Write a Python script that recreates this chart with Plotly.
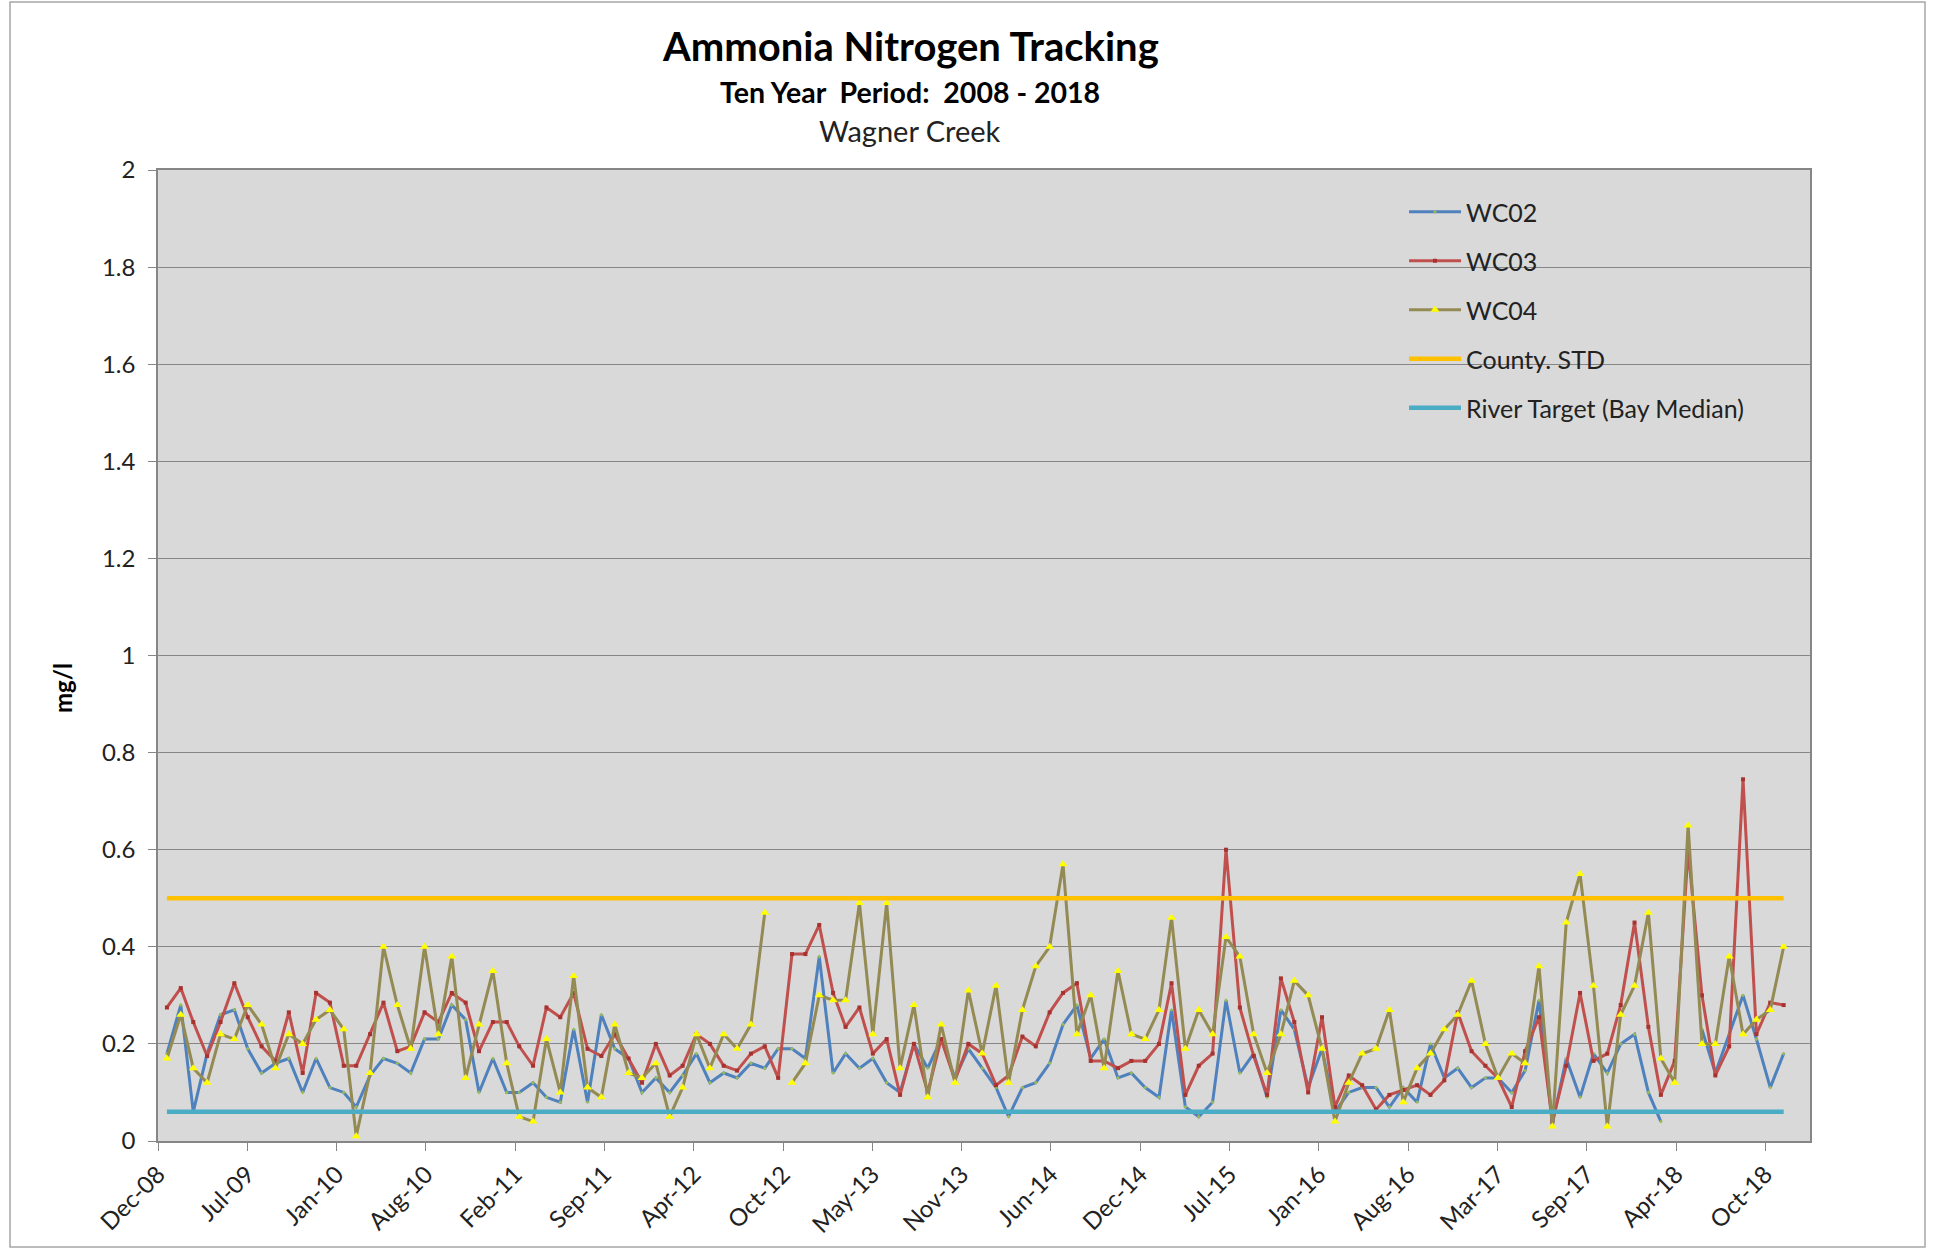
import pandas as pd
import plotly.graph_objects as go

# ---------------- data ----------------
# monthly sampling dates (Jan 2009 .. Dec 2018)
dates = pd.date_range("2009-01-01", periods=120, freq="MS") + pd.Timedelta(days=6)

wc02 = [0.18, 0.28, 0.06, 0.18, 0.26, 0.27, 0.19, 0.14, 0.16, 0.17,
        0.10, 0.17, 0.11, 0.10, 0.07, 0.135, 0.17, 0.16, 0.14, 0.21,
        0.21, 0.28, 0.25, 0.10, 0.17, 0.10, 0.10, 0.12, 0.09, 0.08,
        0.23, 0.08, 0.26, 0.19, 0.17, 0.10, 0.13, 0.10, 0.135, 0.18,
        0.12, 0.14, 0.13, 0.16, 0.15, 0.19, 0.19, 0.17, 0.38, 0.14,
        0.18, 0.15, 0.17, 0.12, 0.10, 0.20, 0.15, 0.21, 0.13, 0.19,
        0.15, 0.11, 0.05, 0.11, 0.12, 0.16, 0.24, 0.28, 0.17, 0.21,
        0.13, 0.14, 0.11, 0.09, 0.27, 0.07, 0.05, 0.08, 0.29, 0.14,
        0.18, 0.09, 0.27, 0.23, 0.11, 0.19, 0.06, 0.10, 0.11, 0.11,
        0.07, 0.11, 0.08, 0.20, 0.13, 0.15, 0.11, 0.13, 0.13, 0.10,
        0.145, 0.29, 0.035, 0.17, 0.09, 0.18, 0.14, 0.20, 0.22, 0.10,
        0.04, None, None, 0.23, 0.14, 0.22, 0.30, 0.21, 0.11, 0.18]

wc03 = [0.275, 0.315, 0.245, 0.175, 0.245, 0.325, 0.255, 0.195, 0.165, 0.265,
        0.14, 0.305, 0.285, 0.155, 0.155, 0.22, 0.285, 0.185, 0.195, 0.265,
        0.245, 0.305, 0.285, 0.185, 0.245, 0.245, 0.195, 0.155, 0.275, 0.255,
        0.305, 0.19, 0.175, 0.22, 0.17, 0.12, 0.20, 0.135, 0.155, 0.22,
        0.20, 0.155, 0.145, 0.18, 0.195, 0.13, 0.385, 0.385, 0.445, 0.305,
        0.235, 0.275, 0.18, 0.21, 0.095, 0.20, 0.10, 0.21, 0.125, 0.20,
        0.18, 0.115, 0.135, 0.215, 0.195, 0.265, 0.305, 0.325, 0.165, 0.165,
        0.15, 0.165, 0.165, 0.20, 0.325, 0.095, 0.155, 0.18, 0.60, 0.275,
        0.175, 0.095, 0.335, 0.245, 0.10, 0.255, 0.07, 0.135, 0.115, 0.065,
        0.095, 0.105, 0.115, 0.095, 0.125, 0.265, 0.185, 0.155, 0.13, 0.07,
        0.185, 0.255, 0.04, 0.155, 0.305, 0.165, 0.18, 0.28, 0.45, 0.235,
        0.095, 0.165, 0.60, 0.30, 0.135, 0.195, 0.745, 0.22, 0.285, 0.28]

wc04 = [0.17, 0.26, 0.15, 0.12, 0.22, 0.21, 0.28, 0.24, 0.15, 0.22,
        0.20, 0.25, 0.27, 0.23, 0.01, 0.14, 0.40, 0.28, 0.19, 0.40,
        0.22, 0.38, 0.13, 0.24, 0.35, 0.16, 0.05, 0.04, 0.21, 0.10,
        0.34, 0.11, 0.09, 0.24, 0.14, 0.13, 0.16, 0.05, 0.11, 0.22,
        0.15, 0.22, 0.19, 0.24, 0.47, None, 0.12, 0.16, 0.30, 0.29,
        0.29, 0.49, 0.22, 0.49, 0.15, 0.28, 0.09, 0.24, 0.12, 0.31,
        0.18, 0.32, 0.12, 0.27, 0.36, 0.40, 0.57, 0.22, 0.30, 0.15,
        0.35, 0.22, 0.21, 0.27, 0.46, 0.19, 0.27, 0.22, 0.42, 0.38,
        0.22, 0.14, 0.22, 0.33, 0.30, 0.19, 0.04, 0.12, 0.18, 0.19,
        0.27, 0.08, 0.15, 0.18, 0.23, 0.26, 0.33, 0.20, 0.13, 0.18,
        0.16, 0.36, 0.03, 0.45, 0.55, 0.32, 0.03, 0.26, 0.32, 0.47,
        0.17, 0.12, 0.65, 0.20, 0.20, 0.38, 0.22, 0.25, 0.27, 0.40]

county_std = 0.5
river_target = 0.06

tick_labels = ["Dec-08", "Jul-09", "Jan-10", "Aug-10", "Feb-11", "Sep-11",
               "Apr-12", "Oct-12", "May-13", "Nov-13", "Jun-14", "Dec-14",
               "Jul-15", "Jan-16", "Aug-16", "Mar-17", "Sep-17", "Apr-18",
               "Oct-18"]

# ---------------- layout geometry (pixels) ----------------
W, H = 1940, 1249
PL, PR, PT, PB = 158, 1810, 170, 1141
axis_start = pd.Timestamp("2008-12-18")
major_days = 200
axis_end = axis_start + pd.Timedelta(days=3700)
tick_vals = [axis_start + pd.Timedelta(days=major_days * i) for i in range(len(tick_labels))]


def px_x(X):
    return (X - PL) / (PR - PL)


def px_y(Y):
    return (PB - Y) / (PB - PT)


FONT = "Lato, 'Open Sans', sans-serif"

fig = go.Figure()

fig.add_trace(go.Scatter(
    x=dates, y=wc02, name="WC02", mode="lines+markers", legendgroup="a",
    line=dict(color="#4F81BD", width=3),
    marker=dict(symbol="diamond", size=3, color="#9BBB59"),
    connectgaps=False))
fig.add_trace(go.Scatter(
    x=dates, y=wc03, name="WC03", mode="lines+markers", legendgroup="b",
    line=dict(color="#C0504D", width=3),
    marker=dict(symbol="square", size=4, color="#A8322F"),
    connectgaps=False))
fig.add_trace(go.Scatter(
    x=dates, y=wc04, name="WC04", mode="lines+markers", legendgroup="c",
    line=dict(color="#948A54", width=3),
    marker=dict(symbol="triangle-up", size=8, color="#FFFF00"),
    connectgaps=False))
fig.add_trace(go.Scatter(
    x=dates, y=[county_std] * len(dates), name="County. STD", mode="lines",
    legendgroup="d", line=dict(color="#FFC000", width=4.5)))
fig.add_trace(go.Scatter(
    x=dates, y=[river_target] * len(dates), name="River Target (Bay Median)",
    mode="lines", legendgroup="e", line=dict(color="#4BACC6", width=4.5)))

fig.update_layout(
    width=W, height=H,
    margin=dict(l=PL, r=W - PR, t=PT, b=H - PB, pad=0),
    paper_bgcolor="white", plot_bgcolor="#D9D9D9",
    font=dict(family=FONT, size=24, color="#222222"),
    showlegend=True,
    legend=dict(x=px_x(1404), y=px_y(189), xanchor="left", yanchor="top",
                bgcolor="rgba(0,0,0,0)", font=dict(size=25, color="#222222"),
                tracegroupgap=13.5, itemwidth=52, traceorder="grouped"),
    xaxis=dict(type="date", range=[axis_start, axis_end],
               tickmode="array", tickvals=tick_vals, ticktext=tick_labels,
               tickangle=-45, ticks="outside", ticklen=8, tickcolor="#868686",
               showgrid=False, showline=True, linecolor="#868686", linewidth=1.5,
               mirror=True, tickfont=dict(size=24, color="#222222")),
    yaxis=dict(range=[0, 2], dtick=0.2, tick0=0, ticks="outside", ticklen=8,
               tickcolor="#868686", showgrid=True, gridcolor="#868686", gridwidth=1.2,
               showline=True, linecolor="#868686", linewidth=1.5, mirror=True,
               zeroline=False, ticklabelstandoff=8,
               tickfont=dict(size=24, color="#222222")),
)

annotations = [
    dict(text="<b>Ammonia Nitrogen Tracking</b>", x=px_x(910), y=px_y(46),
         font=dict(size=40, color="black")),
    dict(text="<b>Ten Year  Period:  2008 - 2018</b>", x=px_x(910), y=px_y(92),
         font=dict(size=28.5, color="black")),
    dict(text="Wagner Creek", x=px_x(910), y=px_y(130),
         font=dict(size=29, color="#222222")),
    dict(text="<b>mg/l</b>", x=px_x(62), y=px_y(688), textangle=-90,
         font=dict(size=24, color="black")),
]
for a in annotations:
    a.update(xref="paper", yref="paper", showarrow=False,
             xanchor="center", yanchor="middle")
fig.update_layout(annotations=annotations)

# outer chart border
fig.add_shape(type="rect", xref="paper", yref="paper",
              x0=px_x(10), x1=px_x(1925), y0=px_y(1247), y1=px_y(2),
              line=dict(color="#A6A6A6", width=1.5), fillcolor="rgba(0,0,0,0)",
              layer="below")

fig.write_html("out.html", config={"displayModeBar": False},
               post_script="document.body.style.margin='0';document.body.style.overflow='hidden';")
